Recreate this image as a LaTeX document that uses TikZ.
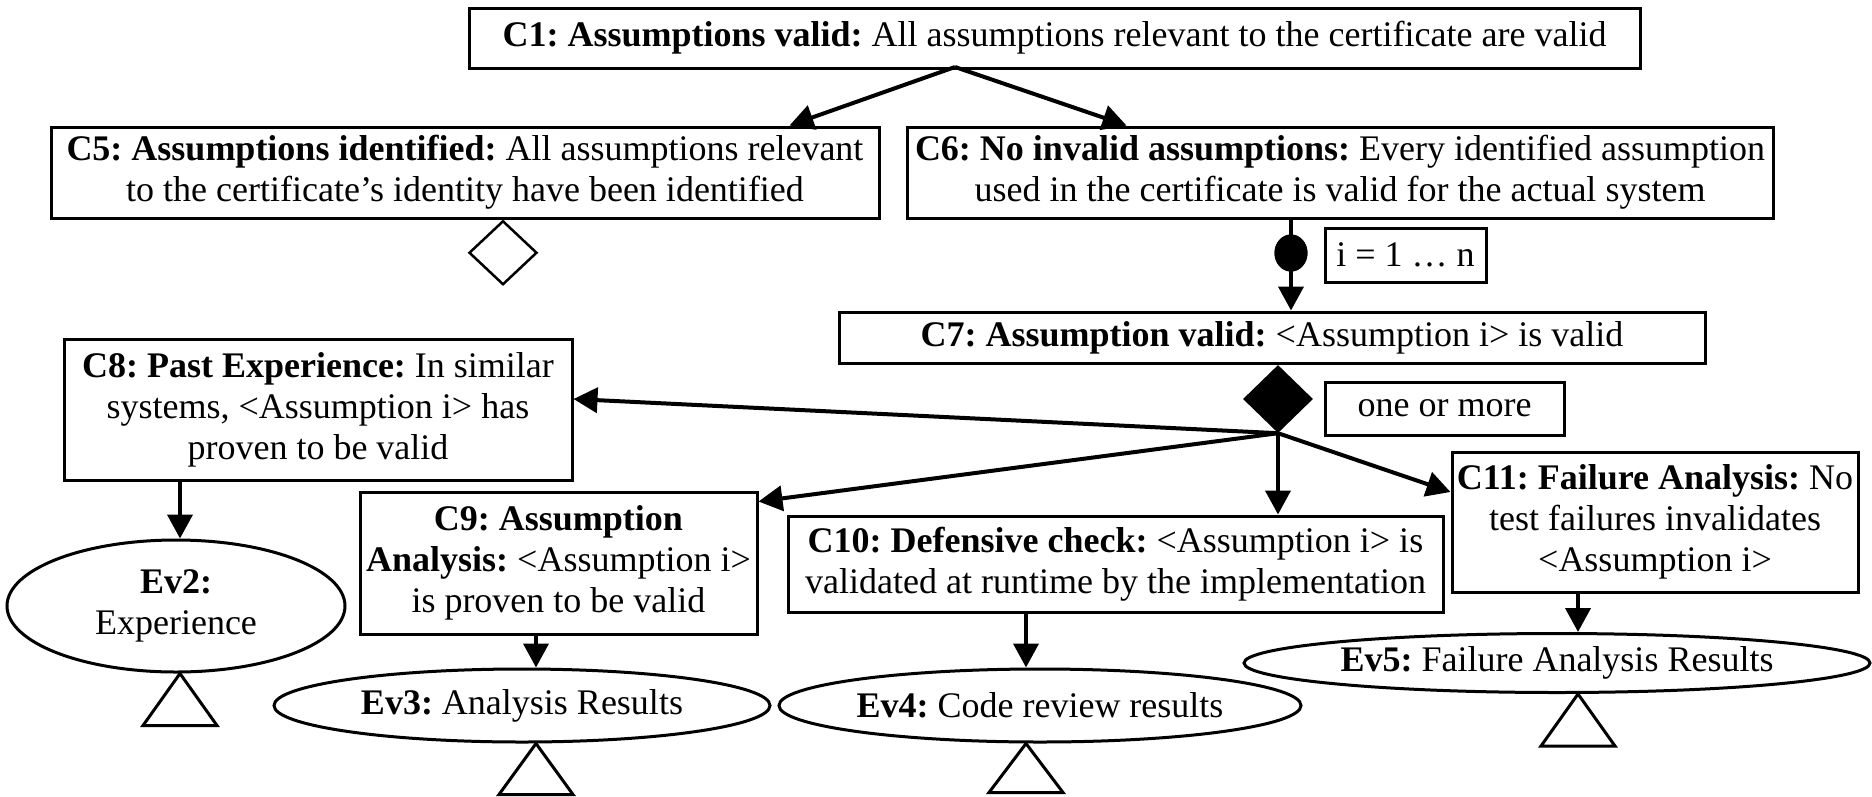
\documentclass[tikz,border=0pt]{standalone}
\usepackage{fontspec}
\setmainfont{Liberation Serif}
\usetikzlibrary{shapes.geometric,arrows.meta}
\frenchspacing
\begin{document}
\begin{tikzpicture}[x=1pt,y=-1pt,
  every node/.style={font=\fontsize{36}{41}\selectfont},
  claim/.style={draw, line width=3pt, inner sep=0pt, align=center},
  evid/.style={ellipse, draw, line width=3pt, inner sep=0pt, align=center},
  tag/.style={draw, line width=3pt, inner sep=0pt},
  link/.style={line width=4pt, -{Triangle[length=24pt,width=25pt]}},
  away/.style={line width=3pt, line join=miter}
]
\useasboundingbox (0,0) rectangle (1872,796);

% claims
\node[claim, minimum width=1171, minimum height=60] (C1) at (1054.5,38)
  {\textbf{C1: Assumptions valid:} All assumptions relevant to the certificate are valid};
\node[claim, minimum width=828, minimum height=91] (C5) at (465,172.5)
  {\textbf{C5: Assumptions identified:} All assumptions relevant\\to the certificate’s identity have been identified};
\node[claim, minimum width=866, minimum height=91] (C6) at (1340,172.5)
  {\textbf{C6: No invalid assumptions:} Every identified assumption\\used in the certificate is valid for the actual system};
\node[claim, minimum width=866, minimum height=51] (C7) at (1272,337.5)
  {\textbf{C7: Assumption valid:} <Assumption i> is valid};
\node[claim, minimum width=508, minimum height=141] (C8) at (318,409.5)
  {\textbf{C8: Past Experience:} In similar\\systems, <Assumption i> has\\proven to be valid};
\node[claim, minimum width=397, minimum height=142] (C9) at (558.5,563)
  {\textbf{C9: Assumption}\\\textbf{Analysis:} <Assumption i>\\is proven to be valid};
\node[claim, minimum width=655, minimum height=96] (C10) at (1115.5,564)
  {\textbf{C10: Defensive check:} <Assumption i> is\\validated at runtime by the implementation};
\node[claim, minimum width=406, minimum height=140] (C11) at (1655,522)
  {\textbf{C11: Failure Analysis:} No\\test failures invalidates\\<Assumption i>};

% side notes
\node[tag, minimum width=161, minimum height=54] (iter) at (1405.5,255) {i = 1 … n};
\node[tag, minimum width=239, minimum height=53] (more) at (1444.5,408.5) {one or more};

% evidence
\node[evid, minimum width=338, minimum height=132] (Ev2) at (176,606) {\textbf{Ev2:}\\Experience};
\node[evid, minimum width=496, minimum height=73] (Ev3) at (522,705.5) {\textbf{Ev3:} Analysis Results};
\node[evid, minimum width=522, minimum height=73] (Ev4) at (1040,705.5) {\textbf{Ev4:} Code review results};
\node[evid, minimum width=626, minimum height=59] (Ev5) at (1557,663) {\textbf{Ev5:} Failure Analysis Results};

% decomposition markers
\node[diamond, draw, line width=2.5pt, minimum width=68, minimum height=64, inner sep=0pt, anchor=north]
  (undev) at ([xshift=38pt]C5.south) {};
\node[ellipse, fill=black, minimum width=33, minimum height=37, inner sep=0pt] (dot) at (1291,253) {};
\node[diamond, fill=black, minimum width=70, minimum height=68, inner sep=0pt] (hub) at (1278,399) {};

% fork point and evidence columns
\coordinate (fork) at (955,67);
\coordinate (t2) at (180,0);
\coordinate (t3) at (536,0);
\coordinate (t4) at (1026,0);
\coordinate (t5) at (1578,0);

% connectors
\draw[link] (fork) -- ([xshift=-91pt]C5.north east);
\draw[link] (fork) -- ([xshift=221pt]C6.north west);
\draw[link] (C6.south -| dot) -- (C7.north -| dot);
\node[ellipse, fill=black, minimum width=33, minimum height=37, inner sep=0pt] at (dot) {};

\draw[link] (hub.south) -- ([yshift=10.5pt]C8.east);
\draw[link] (hub.south) -- ([yshift=-11pt]C9.north east);
\draw[link] (hub.south) -- (C10.north -| hub);
\draw[link] (hub.south) -- ([yshift=30pt]C11.west);

\draw[link] (C8.south -| t2) -- (Ev2.north -| t2);
\draw[link] (C9.south -| t3) -- (Ev3.north -| t3);
\draw[link] (C10.south -| t4) -- (Ev4.north -| t4);
\draw[link] (C11.south -| t5) -- (Ev5.north -| t5);

% undeveloped evidence triangles
\draw[away] (Ev2.south -| t2) -- ++(-37,52) -- ++(74,0) -- cycle;
\draw[away] (Ev3.south -| t3) -- ++(-37,51) -- ++(74,0) -- cycle;
\draw[away] (Ev4.south -| t4) -- ++(-37,49) -- ++(74,0) -- cycle;
\draw[away] (Ev5.south -| t5) -- ++(-37,52) -- ++(74,0) -- cycle;
\end{tikzpicture}
\end{document}
